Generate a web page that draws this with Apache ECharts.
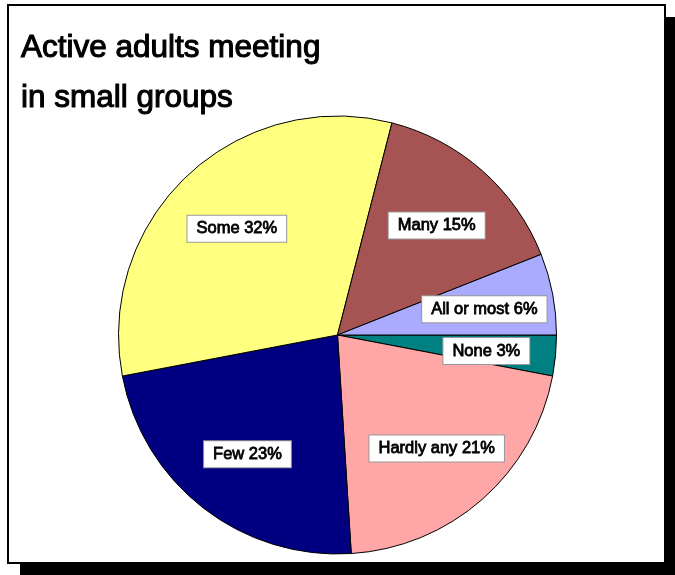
<!DOCTYPE html>
<html>
<head>
<meta charset="utf-8">
<style>
  html, body { margin: 0; padding: 0; background: #fff; }
  #chart { width: 675px; height: 575px; }
</style>
<script src="https://cdn.jsdelivr.net/npm/echarts@6/dist/echarts.min.js"></script>
</head>
<body>
<div id="chart"></div>
<script>
// Share of active adults meeting in small groups, clockwise from 3 o'clock
const categories = ['None', 'Hardly any', 'Few', 'Some', 'Many', 'All or most'];
const shares = [3, 21, 23, 32, 15, 6];
const sliceColors = ['#008080', '#FFA6A6', '#000080', '#FFFF80', '#A65353', '#AAAAFF'];

const pieData = categories.map((name, i) => ({
  name: name,
  value: shares[i],
  itemStyle: { color: sliceColors[i] }
}));

const chart = echarts.init(document.getElementById('chart'), null, { renderer: 'canvas' });

const FONT = '"Liberation Sans", Arial, sans-serif';
const center = [337.5, 335];

chart.setOption({
  backgroundColor: '#fff',
  animation: false,
  graphic: [
    // drop shadow behind the frame
    { type: 'rect', z: 0, shape: { x: 20, y: 17, width: 670, height: 570 }, style: { fill: '#000' } },
    // white frame
    { type: 'rect', z: 1, shape: { x: 8, y: 5, width: 657, height: 558 }, style: { fill: '#fff', stroke: '#000', lineWidth: 2 } }
  ],
  title: {
    text: 'Active adults meeting\nin small groups',
    left: 21,
    top: 23,
    padding: 0,
    z: 10,
    textStyle: {
      fontFamily: FONT,
      fontSize: 31.5,
      fontWeight: 'normal',
      lineHeight: 50,
      color: '#000',
      textBorderColor: '#000',
      textBorderWidth: 1.1
    }
  },
  series: [
    {
      type: 'pie',
      z: 5,
      center: center,
      radius: [0, 219],
      startAngle: 0,
      clockwise: true,
      silent: true,
      label: { show: false },
      labelLine: { show: false },
      itemStyle: { borderColor: '#000', borderWidth: 1 },
      data: pieData
    },
    {
      // label carrier ring: places the category labels about two thirds out
      type: 'pie',
      z: 6,
      center: center,
      radius: [72, 219],
      startAngle: 0,
      clockwise: true,
      silent: true,
      avoidLabelOverlap: false,
      itemStyle: { color: 'rgba(0,0,0,0)', borderWidth: 0 },
      labelLine: { show: false },
      label: {
        show: true,
        position: 'inside',
        offset: [1, 2],
        formatter: '{b} {c}%',
        fontFamily: FONT,
        fontSize: 16.5,
        color: '#000',
        textBorderColor: '#000',
        textBorderWidth: 0.8,
        backgroundColor: '#fff',
        borderColor: '#999',
        borderWidth: 1,
        padding: [5, 9, 4, 9]
      },
      emphasis: { disabled: true },
      data: categories.map((name, i) => ({ name: name, value: shares[i] }))
    }
  ]
});
</script>
</body>
</html>
